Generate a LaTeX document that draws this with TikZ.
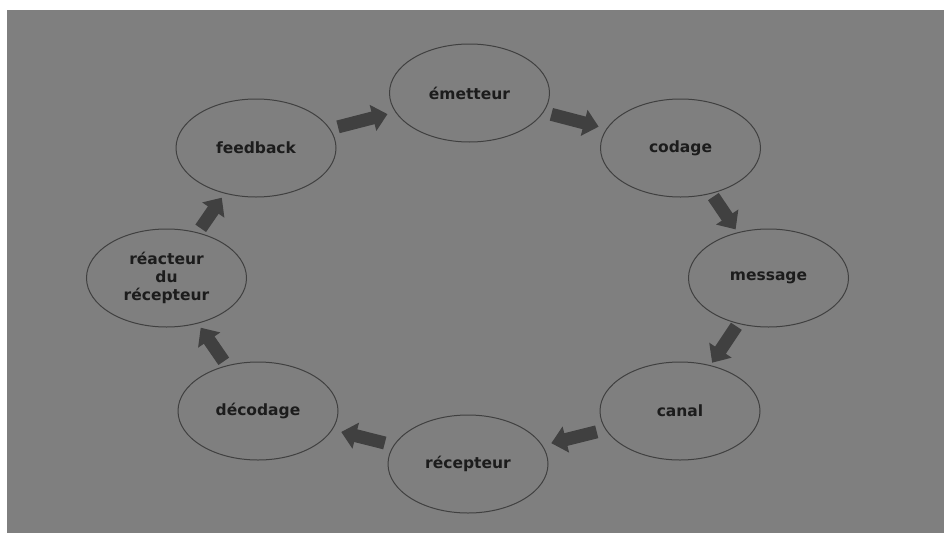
\documentclass[tikz,border=0pt]{standalone}
\usepackage{fontspec}
\setmainfont{DejaVu Sans}
\usetikzlibrary{shapes.geometric,arrows.meta}

\definecolor{bggray}{HTML}{7F7F7F}
\definecolor{rimgray}{HTML}{404040}
\definecolor{arrowgray}{HTML}{404040}
\definecolor{textgray}{HTML}{1C1C1C}

\begin{document}
\begin{tikzpicture}[x=1pt,y=-1pt]

    \useasboundingbox (0,0) rectangle (944,533);
    \fill[bggray] (7,10) rectangle (944,533);

        \begin{scope}[every node/.style={ellipse,draw=rimgray,line width=1pt,minimum width=160pt,minimum height=98pt,inner sep=0pt,text=textgray,font=\bfseries\fontsize{15.5}{18}\selectfont,align=center}]
            \node (1) at (469.5,93)  {émetteur};
            \node (2) at (680.5,148) {codage};
            \node (3) at (768.5,278) {message};
            \node (4) at (680,411)   {canal};
            \node (5) at (468,464)   {récepteur};
            \node (6) at (258,411)   {décodage};
            \node (7) at (166.5,278) {réacteur\\du\\récepteur};
            \node (8) at (256,148)   {feedback};
        \end{scope}

        \begin{scope}[every edge/.style={draw=arrowgray,line width=13pt,-{Triangle[length=15pt,width=26pt]}}]
            \path (8) edge [shorten <=8pt, shorten >=8pt] (1);
            \path (1) edge [shorten <=8pt, shorten >=8pt] (2);
            \path (2) edge [shorten <=3.5pt, shorten >=3.5pt] (3);
            \path (3) edge [shorten <=3pt, shorten >=3pt] (4);
            \path (4) edge [shorten <=9pt, shorten >=9pt] (5);
            \path (5) edge [shorten <=9pt, shorten >=9pt] (6);
            \path (6) edge [shorten <=5pt, shorten >=5pt] (7);
            \path (7) edge [shorten <=5pt, shorten >=5pt] (8);
        \end{scope}

    \end{tikzpicture}
\end{document}
